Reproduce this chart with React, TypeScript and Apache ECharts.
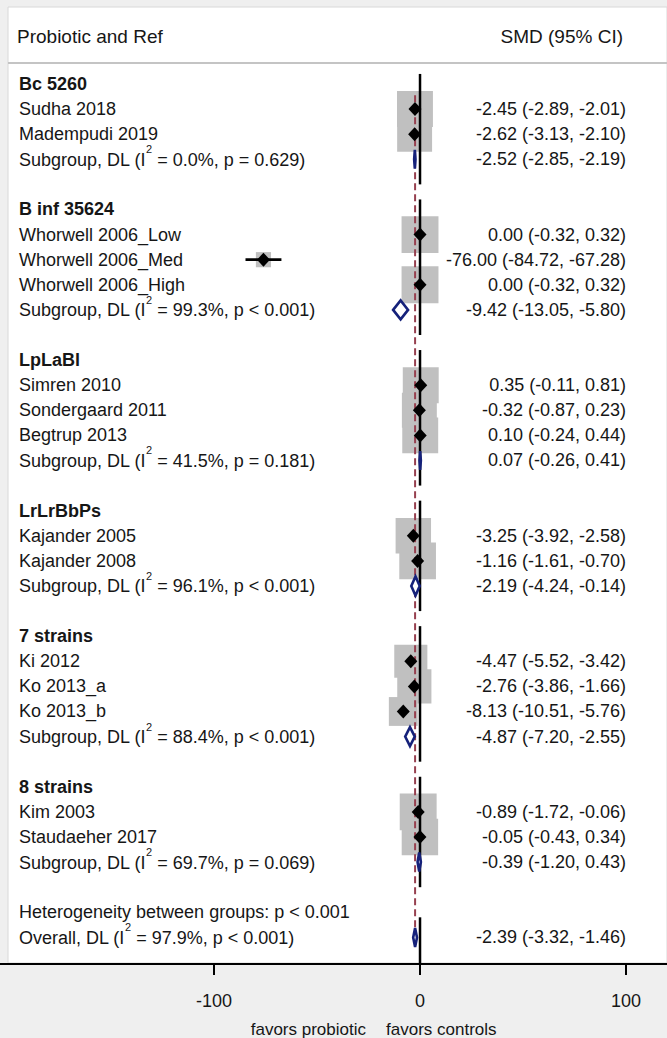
import React, { useEffect, useRef } from "react";
import * as echarts from "echarts";

// ---- data ----
const groupNames = ["Bc 5260", "B inf 35624", "LpLaBl", "LrLrBbPs", "7 strains", "8 strains"];

const studyNames = [
  ["Sudha 2018", "Madempudi 2019"],
  ["Whorwell 2006_Low", "Whorwell 2006_Med", "Whorwell 2006_High"],
  ["Simren 2010", "Sondergaard 2011", "Begtrup 2013"],
  ["Kajander 2005", "Kajander 2008"],
  ["Ki 2012", "Ko 2013_a", "Ko 2013_b"],
  ["Kim 2003", "Staudaeher 2017"],
];
const studySmd = [
  [-2.45, -2.62],
  [0.0, -76.0, 0.0],
  [0.35, -0.32, 0.1],
  [-3.25, -1.16],
  [-4.47, -2.76, -8.13],
  [-0.89, -0.05],
];
const studyLower = [
  [-2.89, -3.13],
  [-0.32, -84.72, -0.32],
  [-0.11, -0.87, -0.24],
  [-3.92, -1.61],
  [-5.52, -3.86, -10.51],
  [-1.72, -0.43],
];
const studyUpper = [
  [-2.01, -2.1],
  [0.32, -67.28, 0.32],
  [0.81, 0.23, 0.44],
  [-2.58, -0.7],
  [-3.42, -1.66, -5.76],
  [-0.06, 0.34],
];
// percentage weights (random effects)
const studyWeight = [
  [7.3, 6.9],
  [7.7, 1.3, 7.7],
  [7.3, 6.9, 7.3],
  [7.1, 7.6],
  [6.2, 6.6, 4.7],
  [7.7, 7.5],
];

const subSmd = [-2.52, -9.42, 0.07, -2.19, -4.87, -0.39];
const subLower = [-2.85, -13.05, -0.26, -4.24, -7.2, -1.2];
const subUpper = [-2.19, -5.8, 0.41, -0.14, -2.55, 0.43];
const subI2 = ["0.0", "99.3", "41.5", "96.1", "88.4", "69.7"];
const subP = ["= 0.629", "< 0.001", "= 0.181", "< 0.001", "< 0.001", "= 0.069"];

const hetP = "< 0.001";
const overallSmd = -2.39;
const overallLower = -3.32;
const overallUpper = -1.46;
const overallI2 = "97.9";
const overallP = "< 0.001";

const xTicks = [-100, 0, 100];

// ---- layout / style ----
const W = 667;
const H = 1038;
const FONT = "'Liberation Sans', Arial, Helvetica, sans-serif";
const TEXT = "#161616";
const NAVY = "#15217a";
const MAROON = "#96404f";
const BOX = "#c0c0c0";
const X_MIN = -203.9;
const X_MAX = 119.9;
const Y_MIN = -0.8;
const Y_MAX = 35.06;
const BOX_SCALE = 13.3;

type Row = {
  row: number;
  kind: "head" | "study" | "sub" | "het" | "overall";
  label: string;
  est?: number;
  lo?: number;
  hi?: number;
  w?: number;
};

const fmt = (v: number) => v.toFixed(2);
const pooledLabel = (name: string, i2: string, p: string) =>
  `{b|${name} (I}{s|2}{b| = ${i2}%, p ${p})}`;

const rows: Row[] = [];
const nullSegments: number[][] = [];
{
  let r = 0;
  groupNames.forEach((g, gi) => {
    const headRow = r;
    rows.push({ row: r++, kind: "head", label: g });
    studyNames[gi].forEach((s, si) => {
      rows.push({
        row: r++,
        kind: "study",
        label: s,
        est: studySmd[gi][si],
        lo: studyLower[gi][si],
        hi: studyUpper[gi][si],
        w: studyWeight[gi][si],
      });
    });
    const subRow = r;
    rows.push({
      row: r++,
      kind: "sub",
      label: pooledLabel("Subgroup, DL", subI2[gi], subP[gi]),
      est: subSmd[gi],
      lo: subLower[gi],
      hi: subUpper[gi],
    });
    nullSegments.push([0, headRow - 0.4, subRow + 1.0]);
    r++; // blank spacer row
  });
  rows.push({ row: r++, kind: "het", label: `Heterogeneity between groups: p ${hetP}` });
  const ovRow = r;
  rows.push({
    row: r++,
    kind: "overall",
    label: pooledLabel("Overall, DL", overallI2, overallP),
    est: overallSmd,
    lo: overallLower,
    hi: overallUpper,
  });
  nullSegments.push([0, ovRow - 0.8, Y_MAX]);
}
const pooledLine = [[overallSmd, 0.45, 33.6]];

const rowData = rows.map((r) => [r.est ?? 0, r.row]);

// base text sits at the bottom of a taller line box, the exponent at its top
const richSup = {
  b: { fontSize: 18, fontFamily: FONT, fill: TEXT, lineHeight: 25, verticalAlign: "bottom" },
  s: { fontSize: 11, fontFamily: FONT, fill: TEXT, lineHeight: 11, verticalAlign: "top" },
};

export default function App() {
  const ref = useRef<HTMLDivElement>(null);

  useEffect(() => {
    document.body.style.margin = "0";
    if (!ref.current) return;
    const chart = echarts.init(ref.current, undefined, { renderer: "svg", width: W, height: H });

    const boxes = (params: any, api: any) => {
      const r = rows[params.dataIndex];
      if (r.kind !== "study") return { type: "group", children: [] };
      const [cx, cy] = api.coord([r.est, r.row]);
      const side = BOX_SCALE * Math.sqrt(r.w as number);
      return {
        type: "rect",
        shape: { x: cx - side / 2, y: cy - side / 2, width: side, height: side },
        style: { fill: BOX },
      };
    };

    const vline = (color: string, width: number, dash: number[] | null) => (params: any, api: any) => {
      const x = api.value(0);
      const p0 = api.coord([x, api.value(1)]);
      const p1 = api.coord([x, api.value(2)]);
      return {
        type: "line",
        shape: { x1: p0[0], y1: p0[1], x2: p1[0], y2: p1[1] },
        style: { stroke: color, lineWidth: width, lineDash: dash || undefined },
      };
    };

    const marks = (params: any, api: any) => {
      const r = rows[params.dataIndex];
      if (r.est === undefined) return { type: "group", children: [] };
      const [cx, cy] = api.coord([r.est, r.row]);
      const xl = api.coord([r.lo, r.row])[0];
      const xh = api.coord([r.hi, r.row])[0];
      if (r.kind === "study") {
        return {
          type: "group",
          children: [
            {
              type: "line",
              shape: { x1: xl, y1: cy, x2: xh, y2: cy },
              style: { stroke: "#000", lineWidth: 2.7 },
            },
            {
              type: "polygon",
              shape: { points: [[cx - 6.5, cy], [cx, cy - 7], [cx + 6.5, cy], [cx, cy + 7]] },
              style: { fill: "#000" },
            },
          ],
        };
      }
      const hh = 9.5;
      return {
        type: "polygon",
        shape: { points: [[xl, cy], [cx, cy - hh], [xh, cy], [cx, cy + hh]] },
        style: { fill: "#fff", stroke: NAVY, lineWidth: 2.6 },
      };
    };

    const labels = (params: any, api: any) => {
      const r = rows[params.dataIndex];
      const cy = api.coord([0, r.row])[1];
      const pooled = r.kind === "sub" || r.kind === "overall";
      const children: any[] = [
        {
          type: "text",
          x: 19,
          y: pooled ? cy - 3 : cy,
          style: {
            text: r.label,
            fill: TEXT,
            font: `${r.kind === "head" ? "bold " : ""}18px ${FONT}`,
            align: "left",
            verticalAlign: "middle",
            rich: pooled ? richSup : undefined,
          },
        },
      ];
      if (r.est !== undefined) {
        children.push({
          type: "text",
          x: 626,
          y: cy,
          style: {
            text: `${fmt(r.est)} (${fmt(r.lo as number)}, ${fmt(r.hi as number)})`,
            fill: TEXT,
            font: `18px ${FONT}`,
            align: "right",
            verticalAlign: "middle",
          },
        });
      }
      return { type: "group", children };
    };

    chart.setOption({
      animation: false,
      backgroundColor: "#efefef",
      grid: { left: 0, right: 0, top: 63.9, bottom: 74, containLabel: false },
      xAxis: {
        type: "value",
        min: X_MIN,
        max: X_MAX,
        position: "bottom",
        splitLine: { show: false },
        axisLine: { show: true, onZero: false, lineStyle: { color: "#000", width: 2 } },
        axisTick: { show: true, customValues: xTicks, length: 11, lineStyle: { color: "#000", width: 2 } },
        axisLabel: {
          customValues: xTicks,
          color: TEXT,
          fontSize: 18,
          fontFamily: FONT,
          margin: 28,
        },
      },
      yAxis: { type: "value", show: false, inverse: true, min: Y_MIN, max: Y_MAX },
      graphic: [
        {
          type: "rect",
          z: 0,
          shape: { x: 8, y: 7, width: W - 8, height: 956 },
          style: { fill: "#fff", stroke: "#d8d8d8", lineWidth: 1 },
        },
        {
          type: "line",
          z: 1,
          shape: { x1: 8, y1: 63, x2: W, y2: 63 },
          style: { stroke: "#c4c4c4", lineWidth: 2 },
        },
        {
          type: "text",
          z: 1,
          x: 17,
          y: 36,
          style: { text: "Probiotic and Ref", fill: TEXT, font: `19px ${FONT}`, align: "left", verticalAlign: "middle" },
        },
        {
          type: "text",
          z: 1,
          x: 623,
          y: 36,
          style: { text: "SMD (95% CI)", fill: TEXT, font: `19px ${FONT}`, align: "right", verticalAlign: "middle" },
        },
        {
          type: "text",
          z: 1,
          x: 366,
          y: 1029,
          style: { text: "favors probiotic", fill: TEXT, font: `17px ${FONT}`, align: "right", verticalAlign: "middle" },
        },
        {
          type: "text",
          z: 1,
          x: 386,
          y: 1029,
          style: { text: "favors controls", fill: TEXT, font: `17px ${FONT}`, align: "left", verticalAlign: "middle" },
        },
      ],
      series: [
        { type: "custom", name: "weights", z: 2, silent: true, renderItem: boxes, data: rowData, encode: { x: 0, y: 1 } },
        {
          type: "custom",
          name: "pooled",
          z: 3,
          silent: true,
          renderItem: vline(MAROON, 2, [7, 4]),
          data: pooledLine,
          encode: { x: 0, y: 1 },
        },
        {
          type: "custom",
          name: "null",
          z: 4,
          silent: true,
          renderItem: vline("#000", 2.5, null),
          data: nullSegments,
          encode: { x: 0, y: 1 },
        },
        { type: "custom", name: "estimates", z: 5, silent: true, renderItem: marks, data: rowData, encode: { x: 0, y: 1 } },
        { type: "custom", name: "labels", z: 6, silent: true, renderItem: labels, data: rowData, encode: { x: 0, y: 1 } },
      ],
    });

    return () => chart.dispose();
  }, []);

  return <div ref={ref} style={{ width: W, height: H }} />;
}
